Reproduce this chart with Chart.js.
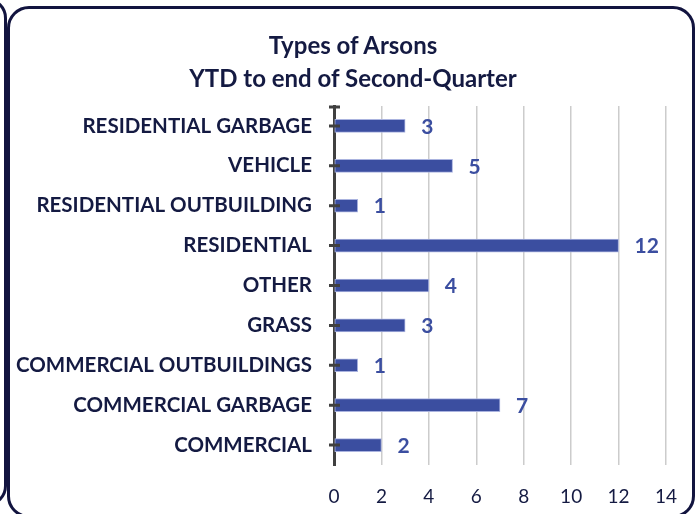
<!DOCTYPE html>
<html>
<head>
<meta charset="utf-8">
<script src="https://cdn.jsdelivr.net/npm/chart.js@4.4.1/dist/chart.umd.min.js"></script>
<style>
  html, body { margin: 0; padding: 0; background: #ffffff; }
  body { width: 700px; height: 514px; overflow: hidden; position: relative; }
  #leftPanel { position: absolute; left: -300px; top: -2px; height: 508px; width: 307px;
    border: 3px solid #12143f; border-radius: 20px; box-sizing: border-box; }
  #frame { position: absolute; left: 7px; top: 6px; width: 688px; height: 512px;
    border: 3px solid #12143f; border-radius: 22px; box-sizing: border-box; }
  #wrap { position: absolute; left: 0; top: 0; width: 700px; height: 514px; }
  #title { position: absolute; left: 0; width: 706px; top: 28px; text-align: center;
    font-family: Lato, sans-serif; font-weight: bold; font-size: 24px; line-height: 33px;
    color: #141a42; }
</style>
</head>
<body>
<div id="leftPanel"></div>
<div id="frame"></div>
<div id="wrap"><canvas id="c" width="700" height="514"></canvas></div>
<div id="title"></div>
<script>
const titleLines = ["Types of Arsons", "YTD to end of Second-Quarter"];
const categories = [
  "RESIDENTIAL GARBAGE",
  "VEHICLE",
  "RESIDENTIAL OUTBUILDING",
  "RESIDENTIAL",
  "OTHER",
  "GRASS",
  "COMMERCIAL OUTBUILDINGS",
  "COMMERCIAL GARBAGE",
  "COMMERCIAL"
];
const arsonCounts = [3, 5, 1, 12, 4, 3, 1, 7, 2];
const xTicks = [0, 2, 4, 6, 8, 10, 12, 14];

const NAVY = '#141a42';
const BAR = '#3b4ea0';
const AXIS = '#404040';

const titleEl = document.getElementById('title');
titleLines.forEach((t, i) => {
  if (i) titleEl.appendChild(document.createElement('br'));
  titleEl.appendChild(document.createTextNode(t));
});

const dataLabels = {
  id: 'dataLabels',
  afterDatasetsDraw(chart) {
    const ctx = chart.ctx;
    const meta = chart.getDatasetMeta(0);
    ctx.save();
    ctx.font = 'bold 21px Lato';
    ctx.fillStyle = BAR;
    ctx.textAlign = 'left';
    ctx.textBaseline = 'middle';
    meta.data.forEach((el, i) => {
      ctx.fillText(String(arsonCounts[i]), el.x + 16, el.y + 1);
    });
    ctx.restore();
  }
};

const axisTicks = {
  id: 'axisTicks',
  afterDraw(chart) {
    const ctx = chart.ctx;
    const y = chart.scales.y;
    const x0 = chart.scales.x.getPixelForValue(0);
    ctx.save();
    ctx.strokeStyle = AXIS;
    ctx.lineWidth = 3;
    ctx.beginPath();
    categories.forEach((c, i) => {
      const py = y.getPixelForValue(i);
      ctx.moveTo(x0 - 5, py);
      ctx.lineTo(x0 + 6, py);
    });
    ctx.moveTo(x0 - 5, chart.chartArea.top + 1);
    ctx.lineTo(x0 + 6, chart.chartArea.top + 1);
    ctx.stroke();
    ctx.restore();
  }
};

new Chart(document.getElementById('c'), {
  type: 'bar',
  data: {
    labels: categories,
    datasets: [{
      data: arsonCounts,
      backgroundColor: BAR,
      borderColor: '#aab3df',
      borderWidth: 1,
      borderSkipped: false,
      barThickness: 13
    }]
  },
  options: {
    indexAxis: 'y',
    responsive: false,
    animation: false,
    devicePixelRatio: 1,
    layout: { padding: { left: 0, right: 34, top: 106, bottom: 0 } },
    plugins: {
      legend: { display: false },
      tooltip: { enabled: false },
      title: { display: false }
    },
    scales: {
      x: {
        min: 0, max: 14,
        afterBuildTicks(scale) { scale.ticks = xTicks.map(v => ({ value: v })); },
        afterFit(scale) { scale.height = 49; },
        grid: { color: '#cccccc', lineWidth: 1.5, drawTicks: false },
        border: { display: false },
        ticks: { color: NAVY, padding: 20, font: { family: 'Lato', size: 19 } }
      },
      y: {
        afterFit(scale) { scale.width = 334; },
        grid: { display: false, drawTicks: false },
        border: { display: true, color: AXIS, width: 3 },
        ticks: { color: NAVY, padding: 22, font: { family: 'Lato', size: 20.5, weight: 'bold' } }
      }
    }
  },
  plugins: [dataLabels, axisTicks]
});
</script>
</body>
</html>
